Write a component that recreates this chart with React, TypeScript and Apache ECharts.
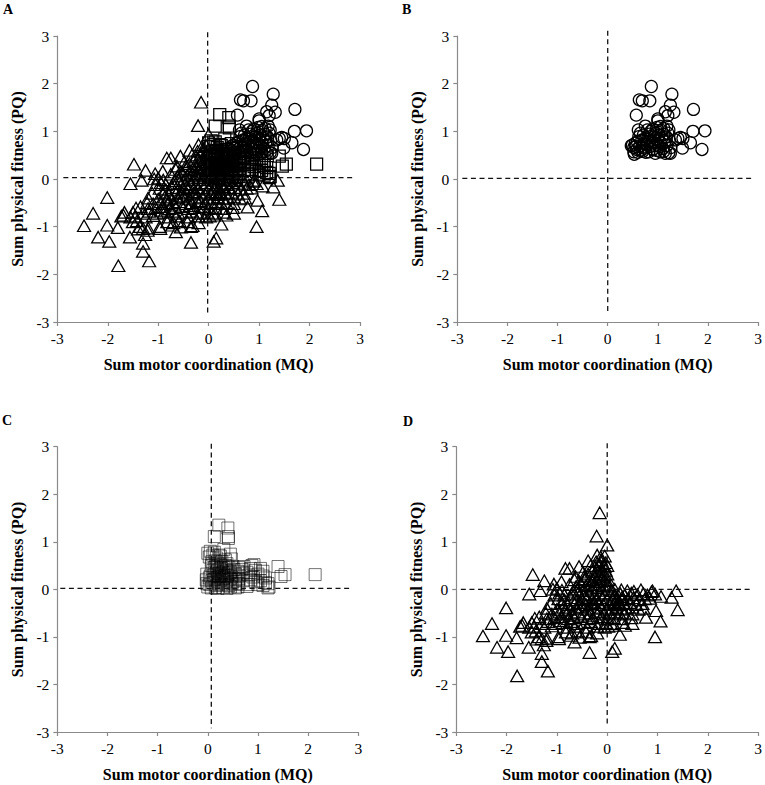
import React, { useEffect, useRef } from "react";
import * as echarts from "echarts";

const panelLetters = ["A", "B", "C", "D"];
const xTitle = "Sum motor coordination (MQ)";
const yTitle = "Sum physical fitness (PQ)";

const circles: number[][] = [
  [0.87,1.94],[1.28,1.78],[0.63,1.66],[0.69,1.64],[0.84,1.64],[1.25,1.55],[1.15,1.41],[1.32,1.40],[1.20,1.33],[0.57,1.34],
  [1.71,1.46],[1.0,1.26],[1.0,1.22],[1.70,1.0],[1.94,1.01],[1.88,0.62],[1.65,0.76],[1.49,0.65],[1.45,0.87],[1.50,0.85],
  [1.40,0.85],[1.35,0.82],[0.53,0.52],[0.52,0.57],[0.56,0.68],[0.49,0.71],[0.59,0.78],[0.61,1.03],[0.65,0.96],[0.62,0.89],
  [0.72,0.75],[0.75,1.11],[0.79,1.03],[0.82,0.57],[0.85,0.68],[0.95,0.54],[1.05,0.57],[1.15,0.54],[1.22,0.55],[1.25,0.54],
  [1.12,1.06],[1.18,1.11],[1.22,1.03],[0.55,0.75],[0.58,0.62],[0.64,0.70],[0.68,0.82],[0.71,0.92],[0.66,0.60],[0.74,0.65],
  [0.78,0.72],[0.80,0.86],[0.83,0.94],[0.86,1.0],[0.88,0.78],[0.9,0.62],[0.92,0.88],[0.94,0.70],[0.96,0.96],[0.98,0.60],
  [1.0,0.82],[1.02,0.92],[1.03,0.68],[1.05,0.76],[1.07,1.02],[1.08,0.86],[1.1,0.64],[1.12,0.94],[1.14,0.78],[1.17,0.88],
  [1.18,0.70],[1.2,0.96],[1.23,0.82],[1.26,0.66],[1.12,0.58],[0.7,0.58],[0.76,0.56],[0.6,0.56],[0.52,0.66],[0.47,0.7],
  [0.74,0.84],[0.9,1.05],[0.98,1.08],[1.05,1.1],[0.84,0.8],[1.0,0.7],[0.92,0.76],[0.68,0.66],
];

const squares: number[][] = [
  [0.22,1.35],[0.40,1.29],[0.13,1.11],[0.41,1.11],[0.41,1.07],[2.14,0.31],[1.40,0.48],[1.54,0.31],[1.46,0.27],
  [0.0,0.76],[0.05,0.8],[0.13,0.78],[0.22,0.72],[0.32,0.84],[0.45,0.74],
  [0.03,0.68],[0.1,0.72],[0.17,0.66],[0.25,0.7],[0.35,0.62],[0.47,0.64],
  [0.08,0.58],[0.15,0.6],[0.2,0.55],[0.28,0.58],[0.38,0.54],
  [0.07,0.5],[0.13,0.46],[0.2,0.5],[0.27,0.44],[0.35,0.5],[0.42,0.46],[0.5,0.48],[0.62,0.46],[0.72,0.48],[0.88,0.5],[0.92,0.52],
  [0.1,0.4],[0.18,0.38],[0.24,0.42],[0.3,0.36],[0.38,0.4],[0.45,0.36],[0.52,0.42],[0.6,0.38],[0.68,0.42],[0.78,0.36],[0.85,0.44],[0.95,0.4],[1.05,0.44],[1.1,0.38],
  [-0.02,0.32],[0.05,0.28],[0.12,0.3],[0.2,0.26],[0.27,0.32],[0.33,0.28],[0.4,0.3],[0.47,0.26],[0.55,0.32],[0.63,0.28],[0.7,0.34],[0.82,0.3],[0.9,0.26],[1.0,0.32],[1.1,0.28],[1.15,0.24],
  [-0.03,0.2],[0.03,0.24],[0.08,0.18],[0.14,0.22],[0.2,0.16],[0.26,0.2],[0.32,0.24],[0.38,0.18],[0.44,0.22],[0.5,0.16],[0.56,0.2],[0.62,0.22],[0.7,0.18],[0.85,0.2],[0.95,0.16],[1.05,0.18],[1.15,0.14],[1.2,0.12],
  [-0.02,0.12],[0.04,0.1],[0.1,0.14],[0.17,0.08],[0.22,0.12],[0.28,0.1],[0.35,0.14],[0.42,0.08],[0.48,0.12],[0.55,0.1],[0.62,0.12],[0.8,0.1],[1.0,0.1],[1.1,0.08],[1.22,0.05],
  [0.0,0.05],[0.07,0.03],[0.15,0.04],[0.2,0.02],[0.3,0.04],[0.38,0.02],[0.45,0.05],[0.55,0.03],[0.6,0.05],[1.2,0.03],[0.78,0.06],
  [0.16,0.32],[0.23,0.34],[0.3,0.22],[0.36,0.3],[0.12,0.2],[0.24,0.28],[0.42,0.34],[0.18,0.48],[0.25,0.52],[0.32,0.46],
];

const triangles: number[][] = [
  [-0.15,1.61],[-0.21,1.12],[0,0.93],[-1.48,0.31],[-1.25,0.18],[-1.55,-0.10],[-1.33,-0.03],[-2.01,-0.39],[-2.29,-0.72],[-2.47,-0.98],
  [-2.19,-1.22],[-1.97,-1.31],[-2.01,-0.97],[-1.79,-1.82],[-1.80,-1.02],[-1.67,-0.70],[-1.69,-0.76],[-1.56,-1.22],[-1.44,-0.61],[-1.30,-1.35],
  [-1.30,-1.52],[-1.18,-1.72],[-1.26,-1.17],[-1.21,-1.08],[-0.35,-1.33],[0.15,-1.24],[0.10,-1.31],[0.25,-0.95],[0.95,-1.0],[1.06,-0.67],
  [0.97,-0.45],[1.40,-0.43],[1.37,-0.03],[1.28,-0.17],[1.07,-0.15],[0.9,-0.03],[0.77,-0.59],[-0.65,-1.11],[-0.96,-1.04],[-0.35,-1.0],
  [-0.55,-1.01],[-0.75,0.44],[-0.83,0.44],[-0.56,0.48],[-0.91,0.16],[-1.06,0.11],
  [-0.2,0.72],[-0.13,0.68],[-0.05,0.7],[-0.38,0.6],[-0.22,0.58],[-0.12,0.62],[-0.03,0.56],
  [-0.33,0.5],[-0.25,0.46],[-0.15,0.52],[-0.05,0.48],[0,0.5],[-0.3,0.38],[-0.2,0.42],[-0.1,0.36],[-0.03,0.4],
  [-0.45,0.28],[-0.38,0.32],[-0.25,0.26],[-0.15,0.3],[-0.08,0.26],[0,0.32],
  [-0.65,0.2],[-0.55,0.16],[-0.45,0.22],[-0.35,0.18],[-0.28,0.2],[-0.2,0.16],[-0.12,0.22],[-0.05,0.18],[0.02,0.2],
  [-0.75,0.1],[-0.62,0.06],[-0.52,0.12],[-0.42,0.08],[-0.32,0.1],[-0.24,0.06],[-0.16,0.12],[-0.08,0.08],[0,0.1],[0.05,0.06],
  [-1.08,0],[-1.0,0.02],[-0.9,-0.02],[-0.6,0],[-0.5,-0.03],[-0.4,0.02],[-0.3,-0.02],[-0.2,0.03],[-0.1,-0.02],[0,0.02],[0.1,-0.03],[0.15,0],[0.28,-0.01],[0.4,-0.03],[0.53,-0.04],[0.67,-0.01],[0.88,-0.05],
  [-1.05,-0.12],[-0.95,-0.08],[-0.85,-0.12],[-0.7,-0.1],[-0.58,-0.08],[-0.47,-0.12],[-0.35,-0.1],[-0.25,-0.12],[-0.15,-0.08],[-0.05,-0.12],[0.06,-0.08],[0.16,-0.12],[0.26,-0.09],[0.35,-0.12],[0.48,-0.08],[0.6,-0.11],[0.72,-0.09],[0.8,-0.12],[0.95,-0.1],
  [-0.97,-0.2],[-0.85,-0.22],[-0.72,-0.18],[-0.6,-0.22],[-0.5,-0.2],[-0.4,-0.18],[-0.3,-0.22],[-0.2,-0.2],[-0.1,-0.18],[0,-0.22],[0.1,-0.2],[0.2,-0.18],[0.3,-0.22],[0.42,-0.2],[0.52,-0.18],[0.63,-0.22],[0.75,-0.2],[0.85,-0.19],
  [-1.12,-0.3],[-0.9,-0.28],[-0.78,-0.32],[-0.65,-0.3],[-0.53,-0.28],[-0.42,-0.32],[-0.3,-0.3],[-0.18,-0.28],[-0.08,-0.32],[0.05,-0.3],[0.15,-0.28],[0.25,-0.32],[0.33,-0.3],[0.45,-0.28],[0.58,-0.32],[0.7,-0.3],
  [-1.2,-0.4],[-1.0,-0.42],[-0.87,-0.38],[-0.75,-0.42],[-0.62,-0.4],[-0.5,-0.38],[-0.38,-0.42],[-0.26,-0.4],[-0.12,-0.38],[0,-0.42],[0.1,-0.4],[0.18,-0.38],[0.28,-0.42],[0.38,-0.4],[0.5,-0.38],[0.62,-0.42],[0.72,-0.4],
  [-1.22,-0.5],[-1.1,-0.52],[-0.95,-0.48],[-0.82,-0.52],[-0.7,-0.5],[-0.58,-0.48],[-0.45,-0.52],[-0.35,-0.5],[-0.22,-0.48],[-0.08,-0.52],[0.04,-0.5],[0.15,-0.48],[0.25,-0.52],[0.35,-0.5],[0.5,-0.52],
  [-1.35,-0.58],[-1.2,-0.62],[-1.05,-0.6],[-0.92,-0.58],[-0.78,-0.62],[-0.65,-0.6],[-0.52,-0.58],[-0.4,-0.62],[-0.28,-0.6],[-0.12,-0.58],[0,-0.62],[0.13,-0.6],[0.3,-0.62],[0.48,-0.6],
  [-1.5,-0.7],[-1.3,-0.72],[-1.18,-0.68],[-1.02,-0.72],[-0.88,-0.7],[-0.72,-0.68],[-0.6,-0.72],[-0.45,-0.7],[-0.33,-0.68],[-0.15,-0.72],[-0.03,-0.7],[0.12,-0.72],[0.3,-0.7],[0.5,-0.72],
  [-1.73,-0.78],[-1.55,-0.8],[-1.45,-0.78],[-1.25,-0.8],[-1.1,-0.77],[-0.8,-0.8],[-0.65,-0.78],[-0.4,-0.8],[-0.2,-0.78],[-0.05,-0.8],[0.02,-0.78],[0.1,-0.76],[0.35,-0.76],
  [-1.5,-0.9],[-1.42,-0.88],[-0.82,-0.9],[-0.7,-0.92],[-0.58,-0.88],[-0.42,-0.9],[-0.2,-0.92],[-0.72,-0.97],[-1.36,-1.0],[-1.3,-1.04],[-0.97,-1.0],[-0.32,-0.98],[-1.4,-1.05],[-1.2,-1.03],
  [-0.63,0.27],[-0.48,0.36],[-0.68,-0.04],[-0.44,-0.17],[-0.26,0.11],[-0.06,0.3],[-0.18,0.37],[-0.11,0.44],[-0.26,-0.27],[-0.56,-0.36],
  [-0.82,-0.44],[-0.93,-0.66],[-0.68,-0.55],[-0.36,-0.56],[-0.17,-0.46],[0.08,-0.27],[0.13,-0.15],[0.22,-0.27],[0.19,-0.33],[0.3,-0.16],
];

const hLineY = [0.03, 0.015, 0.02, 0];
const hLineX = [[-2.88, 2.88], [-2.9, 2.87], [-2.94, 2.87], [-2.91, 2.84]];
const vLineX = [-0.02, 0, 0.07, 0];
const vLineY = [[3.08, -2.83], [3.11, -2.82], [3.06, -2.92], [3.07, -2.89]];

const grids = [
  { left: 57.3, top: 36, width: 302.7, height: 286 },
  { left: 457.3, top: 36, width: 302.7, height: 286 },
  { left: 57.3, top: 446.7, width: 301, height: 285.3 },
  { left: 456.3, top: 446.7, width: 302.7, height: 285.3 },
];
const letterPos = [[3, 2], [402, 2], [2, 413], [403, 414]];

const FONT = "Liberation Serif";
const AXIS = "#8a8a8a";

function mark(name: string, gridIndex: number, data: number[][], kind: string, color: string, width = 1.25) {
  const size = kind === "triangle" ? [13, 11.5] : 12;
  return {
    type: "scatter", name, xAxisIndex: gridIndex, yAxisIndex: gridIndex, data,
    symbol: kind, symbolSize: size, silent: true,
    itemStyle: { color: "rgba(255,255,255,0)", borderColor: color, borderWidth: width, opacity: 1 },
  };
}

function dashes(i: number) {
  const style = { color: "#111", width: 1.3, type: [5, 3.6] };
  const common = { type: "line", xAxisIndex: i, yAxisIndex: i, symbol: "none", clip: false, silent: true, lineStyle: style };
  return [
    { ...common, name: "h" + i, data: [[hLineX[i][0], hLineY[i]], [hLineX[i][1], hLineY[i]]] },
    { ...common, name: "v" + i, data: [[vLineX[i], vLineY[i][0]], [vLineX[i], vLineY[i][1]]] },
  ];
}

export default function App() {
  const ref = useRef<HTMLDivElement>(null);
  useEffect(() => {
    const chart = echarts.init(ref.current!, null, { renderer: "svg" });
    const axisBase = {
      type: "value", min: -3, max: 3, interval: 1, splitLine: { show: false },
      axisLine: { onZero: false, lineStyle: { color: AXIS, width: 1.2 } },
      axisTick: { length: 4, lineStyle: { color: AXIS, width: 1.2 } },
      nameLocation: "middle",
      nameTextStyle: { fontFamily: FONT, fontWeight: "bold", fontSize: 16, color: "#000" },
    };
    const label = { fontFamily: FONT, fontSize: 15.5, color: "#000", margin: 8 };
    chart.setOption({
      animation: false,
      backgroundColor: "#fff",
      grid: grids,
      xAxis: grids.map((_, i) => ({ ...axisBase, gridIndex: i, name: xTitle, nameGap: 34, axisLabel: label })),
      yAxis: grids.map((_, i) => ({ ...axisBase, gridIndex: i, name: yTitle, nameGap: 32, axisLabel: label })),
      series: [
        ...dashes(0), ...dashes(1), ...dashes(2), ...dashes(3),
        mark("A triangles", 0, triangles, "triangle", "#000"),
        mark("A circles", 0, circles, "circle", "#000"),
        mark("A squares", 0, squares, "rect", "#000"),
        mark("B circles", 1, circles, "circle", "#000"),
        mark("C squares", 2, squares, "rect", "rgba(0,0,0,0.55)", 1),
        mark("D triangles", 3, triangles, "triangle", "#000"),
      ],
      graphic: panelLetters.map((t, i) => ({
        type: "text", x: letterPos[i][0], y: letterPos[i][1],
        style: { text: t, fontFamily: FONT, fontWeight: "bold", fontSize: 14, fill: "#000" },
      })),
    });
    return () => chart.dispose();
  }, []);
  return <div ref={ref} style={{ position: "fixed", left: 0, top: 0, width: 765, height: 785 }} />;
}
